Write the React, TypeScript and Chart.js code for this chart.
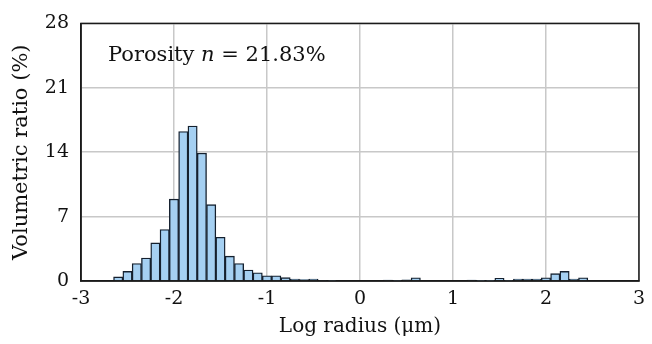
import React, { useEffect, useRef } from "react";
import { Chart, registerables } from "chart.js";

Chart.register(...registerables);

const binCenters = [
  -2.6, -2.5, -2.4, -2.3, -2.2, -2.1, -2.0, -1.9, -1.8, -1.7,
  -1.6, -1.5, -1.4, -1.3, -1.2, -1.1, -1.0, -0.9, -0.8, -0.7,
  -0.6, -0.5, -0.4, -0.3, -0.2, -0.1, 0.0, 0.1, 0.2, 0.3,
  0.4, 0.5, 0.6, 0.7, 0.8, 0.9, 1.0, 1.1, 1.2, 1.3,
  1.4, 1.5, 1.6, 1.7, 1.8, 1.9, 2.0, 2.1, 2.2, 2.3, 2.4,
];

const volumetricRatio = [
  0.45, 1.05, 1.9, 2.5, 4.15, 5.6, 8.9, 16.25, 16.85, 13.9,
  8.3, 4.75, 2.7, 1.9, 1.2, 0.9, 0.57, 0.57, 0.36, 0.2,
  0.15, 0.2, 0.08, 0.05, 0, 0, 0, 0, 0, 0.1,
  0.05, 0.12, 0.35, 0, 0, 0, 0, 0, 0.1, 0.03,
  0.03, 0.28, 0.05, 0.2, 0.2, 0.2, 0.35, 0.8, 1.05, 0.2, 0.35,
];

const xTicks = [-3, -2, -1, 0, 1, 2, 3];
const yTicks = [0, 7, 14, 21, 28];
const annotationPrefix = "Porosity ";
const annotationVar = "n";
const annotationSuffix = " = 21.83%";

const FONT = "'DejaVu Serif', 'Liberation Serif', serif";

const frameAndLabel = {
  id: "frameAndLabel",
  afterDraw(chart: any) {
    const { ctx, chartArea: a } = chart;
    ctx.save();
    ctx.strokeStyle = "#1a1a1a";
    ctx.lineWidth = 1.5;
    ctx.strokeRect(a.left, a.top, a.right - a.left, a.bottom - a.top);
    ctx.fillStyle = "#111";
    ctx.textBaseline = "alphabetic";
    ctx.textAlign = "left";
    let x = a.left + 27;
    const y = a.top + 38;
    ctx.font = `21px ${FONT}`;
    ctx.fillText(annotationPrefix, x, y);
    x += ctx.measureText(annotationPrefix).width;
    ctx.font = `italic 21px ${FONT}`;
    ctx.fillText(annotationVar, x, y);
    x += ctx.measureText(annotationVar).width;
    ctx.font = `21px ${FONT}`;
    ctx.fillText(annotationSuffix, x, y);
    ctx.restore();
  },
};

export default function App() {
  const ref = useRef<HTMLCanvasElement | null>(null);
  useEffect(() => {
    if (!ref.current) return;
    const chart = new Chart(ref.current, {
      type: "bar",
      data: {
        datasets: [
          {
            data: binCenters.map((x, i) => ({ x, y: volumetricRatio[i] })),
            backgroundColor: "#a5d0f2",
            borderColor: "#15202e",
            borderWidth: 1.4,
            barPercentage: 1,
            categoryPercentage: 1,
          },
        ],
      },
      options: {
        responsive: false,
        animation: false,
        devicePixelRatio: 1,
        layout: { padding: { top: 21, right: 12, left: 0, bottom: 0 } },
        plugins: { legend: { display: false }, tooltip: { enabled: false } },
        scales: {
          x: {
            type: "linear",
            min: -3,
            max: 3,
            offset: false,
            afterBuildTicks: (s: any) => {
              s.ticks = xTicks.map((v) => ({ value: v }));
            },
            afterFit: (s: any) => {
              s.height = 63;
            },
            grid: { color: "#c8c8c8", lineWidth: 1.5, drawTicks: false, offset: false },
            border: { display: true, color: "#1a1a1a", width: 1.5 },
            ticks: {
              padding: 7,
              color: "#111",
              font: { family: FONT, size: 19 },
              callback: (v: any) => String(v),
            },
            title: {
              display: true,
              text: "Log radius (μm)",
              color: "#111",
              font: { family: FONT, size: 20 },
              padding: { top: 0, bottom: 5 },
            },
          },
          y: {
            min: 0,
            max: 28,
            afterBuildTicks: (s: any) => {
              s.ticks = yTicks.map((v) => ({ value: v }));
            },
            afterFit: (s: any) => {
              s.width = 81;
            },
            grid: { color: "#c8c8c8", lineWidth: 1.5, drawTicks: false },
            border: { display: true, color: "#1a1a1a", width: 1.5 },
            ticks: {
              padding: 12,
              color: "#111",
              font: { family: FONT, size: 19 },
              callback: (v: any) => String(v),
            },
            title: {
              display: true,
              text: "Volumetric ratio (%)",
              color: "#111",
              font: { family: FONT, size: 21 },
              padding: { top: 9, bottom: 0 },
            },
          },
        },
      },
      plugins: [frameAndLabel],
    });
    return () => chart.destroy();
  }, []);
  return (
    <div style={{ position: "fixed", left: 0, top: 0, width: 652, height: 344, background: "#fff" }}>
      <canvas ref={ref} width={652} height={344} style={{ width: 652, height: 344 }} />
    </div>
  );
}
